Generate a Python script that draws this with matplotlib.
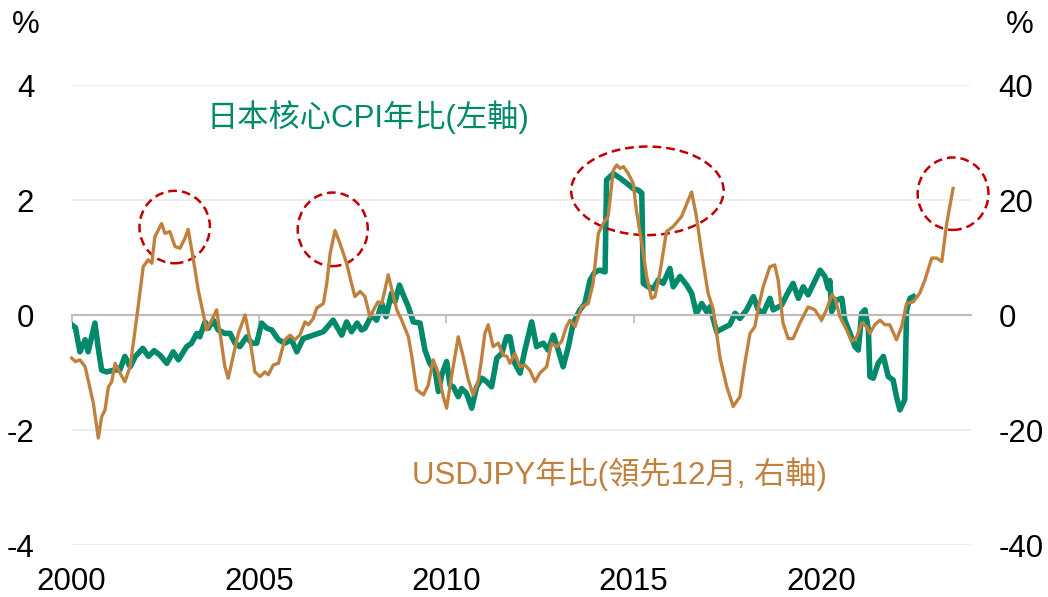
import matplotlib.pyplot as plt
from matplotlib.patches import Ellipse

# 日本核心CPI年比 (左軸, %)
cpi_x = [2000.00, 2000.10, 2000.22, 2000.36, 2000.44, 2000.62, 2000.71, 2000.80, 2000.93,
         2001.11, 2001.29, 2001.42, 2001.56, 2001.70, 2001.90, 2002.05, 2002.20, 2002.36,
         2002.54, 2002.71, 2002.85, 2003.07, 2003.20, 2003.34, 2003.42, 2003.56, 2003.65,
         2003.78, 2003.91, 2004.09, 2004.23, 2004.36, 2004.49, 2004.67, 2004.81, 2004.94,
         2005.07, 2005.21, 2005.34, 2005.52, 2005.69, 2005.87, 2006.01, 2006.18, 2006.45,
         2006.72, 2006.98, 2007.21, 2007.34, 2007.47, 2007.62, 2007.74, 2007.83, 2008.01,
         2008.14, 2008.28, 2008.39, 2008.54, 2008.63, 2008.75, 2008.87, 2008.99, 2009.12,
         2009.30, 2009.43, 2009.56, 2009.70, 2009.79, 2009.88, 2010.01, 2010.10, 2010.19,
         2010.32, 2010.41, 2010.54, 2010.68, 2010.81, 2010.95, 2011.08, 2011.21, 2011.35,
         2011.48, 2011.61, 2011.70, 2011.83, 2011.97, 2012.10, 2012.28, 2012.41, 2012.59,
         2012.72, 2012.86, 2012.99, 2013.12, 2013.26, 2013.39, 2013.57, 2013.70, 2013.84,
         2013.97, 2014.10, 2014.24, 2014.28, 2014.46, 2014.64, 2014.82, 2014.99, 2015.13,
         2015.22, 2015.26, 2015.39, 2015.53, 2015.66, 2015.79, 2015.97, 2016.06, 2016.24,
         2016.42, 2016.55, 2016.68, 2016.82, 2016.95, 2017.04, 2017.22, 2017.39, 2017.57,
         2017.71, 2017.84, 2018.02, 2018.20, 2018.33, 2018.46, 2018.64, 2018.73, 2018.95,
         2019.09, 2019.26, 2019.40, 2019.53, 2019.66, 2019.98, 2020.11, 2020.20, 2020.24,
         2020.29, 2020.42, 2020.56, 2020.64, 2020.78, 2020.91, 2021.00, 2021.09, 2021.18,
         2021.27, 2021.31, 2021.40, 2021.53, 2021.67, 2021.80, 2021.93, 2022.02, 2022.11,
         2022.20, 2022.24, 2022.29, 2022.38, 2022.47]
cpi_y = [-0.17, -0.22, -0.64, -0.43, -0.64, -0.14, -0.58, -0.96, -0.99,
         -0.96, -0.95, -0.72, -0.90, -0.72, -0.58, -0.72, -0.62, -0.70,
         -0.84, -0.64, -0.78, -0.55, -0.49, -0.32, -0.38, -0.12, -0.23,
         -0.09, -0.26, -0.32, -0.32, -0.49, -0.55, -0.38, -0.49, -0.49,
         -0.14, -0.23, -0.26, -0.43, -0.49, -0.43, -0.64, -0.41, -0.35,
         -0.29, -0.09, -0.35, -0.12, -0.29, -0.14, -0.26, -0.23, 0.00,
         -0.09, 0.20, -0.03, 0.38, 0.23, 0.52, 0.32, 0.14, -0.12,
         -0.14, -0.61, -0.84, -0.96, -1.33, -1.04, -0.81, -1.22, -1.25,
         -1.42, -1.28, -1.36, -1.62, -1.25, -1.10, -1.16, -1.25, -0.75,
         -0.67, -0.38, -0.38, -0.84, -1.01, -0.61, -0.12, -0.55, -0.49,
         -0.61, -0.35, -0.61, -0.90, -0.55, -0.14, 0.09, 0.20, 0.61,
         0.75, 0.78, 0.75, 2.35, 2.46, 2.38, 2.29, 2.20, 2.17,
         2.12, 0.55, 0.49, 0.46, 0.61, 0.55, 0.81, 0.49, 0.67,
         0.52, 0.38, 0.03, 0.20, 0.06, 0.14, -0.29, -0.23, -0.17,
         0.03, -0.06, 0.09, 0.32, 0.09, 0.03, 0.29, 0.09, 0.17,
         0.35, 0.55, 0.29, 0.49, 0.35, 0.78, 0.67, 0.46, 0.60,
         0.06, 0.26, 0.29, -0.09, -0.32, -0.55, -0.61, 0.03, 0.09,
         -0.26, -1.07, -1.10, -0.84, -0.72, -1.07, -1.13, -1.42, -1.65,
         -1.53, -1.47, 0.09, 0.29, 0.32]

# USDJPY年比 (領先12月, 右軸, %)
fx_x = [2000.00, 2000.10, 2000.22, 2000.36, 2000.44, 2000.58, 2000.71, 2000.80, 2000.89,
        2000.98, 2001.07, 2001.16, 2001.29, 2001.42, 2001.56, 2001.74, 2001.91, 2002.04,
        2002.14, 2002.22, 2002.40, 2002.49, 2002.62, 2002.76, 2002.89, 2003.02, 2003.11,
        2003.25, 2003.38, 2003.51, 2003.60, 2003.74, 2003.87, 2003.96, 2004.09, 2004.18,
        2004.31, 2004.45, 2004.63, 2004.76, 2004.89, 2005.03, 2005.16, 2005.25, 2005.38,
        2005.52, 2005.69, 2005.83, 2005.96, 2006.09, 2006.23, 2006.32, 2006.45, 2006.54,
        2006.72, 2006.81, 2006.90, 2007.03, 2007.16, 2007.34, 2007.47, 2007.56, 2007.70,
        2007.83, 2007.96, 2008.10, 2008.18, 2008.28, 2008.36, 2008.45, 2008.54, 2008.68,
        2008.81, 2008.99, 2009.08, 2009.21, 2009.39, 2009.52, 2009.65, 2009.79, 2009.92,
        2010.01, 2010.14, 2010.32, 2010.45, 2010.59, 2010.72, 2010.85, 2010.94, 2011.03,
        2011.12, 2011.25, 2011.39, 2011.52, 2011.62, 2011.70, 2011.83, 2011.97, 2012.10,
        2012.23, 2012.37, 2012.50, 2012.68, 2012.81, 2012.95, 2013.08, 2013.21, 2013.30,
        2013.44, 2013.61, 2013.79, 2013.92, 2014.06, 2014.19, 2014.32, 2014.46, 2014.55,
        2014.64, 2014.73, 2014.86, 2014.99, 2015.08, 2015.22, 2015.35, 2015.48, 2015.57,
        2015.70, 2015.88, 2016.06, 2016.28, 2016.55, 2016.68, 2016.82, 2016.99, 2017.13,
        2017.31, 2017.49, 2017.66, 2017.84, 2017.97, 2018.11, 2018.24, 2018.33, 2018.46,
        2018.64, 2018.77, 2018.86, 2018.99, 2019.13, 2019.26, 2019.44, 2019.66, 2019.84,
        2020.02, 2020.15, 2020.29, 2020.38, 2020.51, 2020.69, 2020.82, 2020.96, 2021.09,
        2021.22, 2021.31, 2021.44, 2021.58, 2021.71, 2021.84, 2022.02, 2022.16, 2022.29,
        2022.47, 2022.64, 2022.78, 2022.96, 2023.09, 2023.23, 2023.36, 2023.53]
fx_y = [-7.5, -8.1, -7.8, -9.0, -11.3, -15.4, -21.4, -17.7, -16.5,
        -12.5, -11.6, -8.4, -10.1, -11.6, -9.0, -0.3, 8.4, 9.6,
        9.0, 13.6, 15.9, 14.2, 14.5, 11.9, 11.6, 13.3, 14.9,
        9.6, 4.3, 0.3, -2.6, -0.9, 0.9, -3.2, -9.0, -11.0,
        -7.2, -3.2, 0.0, -4.3, -9.9, -10.7, -9.9, -10.4, -8.7,
        -8.4, -4.3, -3.5, -4.3, -3.5, -1.2, -1.7, -0.6, 1.2,
        2.0, 5.5, 10.7, 14.7, 12.5, 9.0, 5.5, 3.2, 4.1,
        3.2, -0.3, 1.4, 2.3, 2.0, 4.3, 7.0, 4.6, 0.9,
        -0.9, -3.8, -7.2, -13.0, -13.9, -12.2, -7.8, -10.1, -14.2,
        -16.2, -10.7, -3.8, -7.2, -11.3, -13.9, -11.6, -7.8, -3.2,
        -1.7, -5.5, -4.9, -7.0, -7.2, -8.4, -6.7, -9.0, -8.7,
        -9.6, -11.6, -10.1, -9.0, -4.9, -5.5, -4.6, -2.0, -0.9,
        -2.0, 1.4, 2.0, 5.5, 14.2, 15.9, 17.1, 25.2, 26.1,
        25.5, 25.8, 24.6, 22.9, 18.0, 12.5, 6.7, 2.9, 3.2,
        7.2, 14.5, 15.4, 17.1, 21.4, 17.1, 10.7, 3.8, 0.9,
        -7.5, -12.5, -15.9, -14.2, -8.4, -3.2, -2.0, 1.2, 4.9,
        8.4, 8.7, 6.1, -1.4, -4.1, -4.1, -1.4, 1.4, 0.9,
        -0.9, 0.9, 3.5, 2.9, -0.3, -2.6, -4.6, -3.8, -1.4,
        -2.0, -3.2, -1.7, -0.9, -1.7, -1.7, -4.3, -2.0, 2.0,
        2.3, 3.8, 6.1, 9.9, 9.9, 9.3, 15.9, 22.0]

years = [2000, 2005, 2010, 2015, 2020]
left_ticks = [-4, -2, 0, 2, 4]
right_ticks = [-40, -20, 0, 20, 40]

# 紅色虛線圈 (中心年份, 右軸值, 寬, 高)
circles = [(2002.75, 15.3, 1.88, 12.6), (2006.97, 14.9, 1.87, 12.8),
           (2015.37, 21.6, 4.07, 15.4), (2023.53, 21.1, 1.89, 12.6)]

green = '#00896B'
orange = '#C0813F'
plt.rcParams['font.family'] = ['Liberation Sans', 'Noto Sans CJK TC', 'DejaVu Sans']
plt.rcParams['axes.unicode_minus'] = False

fig = plt.figure(figsize=(10.48, 5.97), dpi=100)
ax = fig.add_axes([0.0684, 0.0871, 0.8578, 0.7705])
ax2 = ax.twinx()

ax.plot(cpi_x, cpi_y, color=green, lw=4.0, solid_joinstyle='round')
ax2.plot(fx_x, fx_y, color=orange, lw=2.4, solid_joinstyle='round', clip_on=False)

for cx, cy, w, h in circles:
    ax2.add_patch(Ellipse((cx, cy), w, h, fill=False, ec='#C00000', lw=1.8,
                          ls=(0, (3.5, 2)), clip_on=False))

ax.set_xlim(2000, 2024)
ax.set_ylim(-4, 4)
ax2.set_ylim(-40, 40)

ax.set_yticks(left_ticks)
ax2.set_yticks(right_ticks)
ax.grid(axis='y', color='#EDEDED', lw=1.3)
ax.set_axisbelow(True)

for a in (ax, ax2):
    for s in a.spines.values():
        s.set_visible(False)

ax.tick_params(axis='y', length=0, pad=27, labelsize=22.5)
ax2.tick_params(axis='y', length=0, pad=20, labelsize=22.5)

# 零軸線與年份刻度 (標籤放在底部)
ax.spines['bottom'].set_visible(True)
ax.spines['bottom'].set_position(('data', 0))
ax.spines['bottom'].set_color('#BFBFBF')
ax.spines['bottom'].set_linewidth(1.6)
ax.set_xticks(years)
ax.tick_params(axis='x', direction='out', length=6, width=1.3, color='#BFBFBF', labelbottom=False)

lab = ax.secondary_xaxis('bottom')
lab.set_xticks(years)
lab.tick_params(axis='x', length=0, pad=16, labelsize=22.5)
for s in lab.spines.values():
    s.set_visible(False)

ax.text(2003.61, 3.44, '日本核心CPI年比(左軸)', color=green, fontsize=22.5, va='center', ha='left')
ax.text(2009.08, -2.77, 'USDJPY年比(領先12月, 右軸)', color=orange, fontsize=22.5, va='center', ha='left')

fig.text(25.3 / 1048, 1 - 24.7 / 597, '%', fontsize=22.5, ha='center', va='center')
fig.text(1019.3 / 1048, 1 - 24.7 / 597, '%', fontsize=22.5, ha='center', va='center')

fig.savefig('out.png', dpi=100)
